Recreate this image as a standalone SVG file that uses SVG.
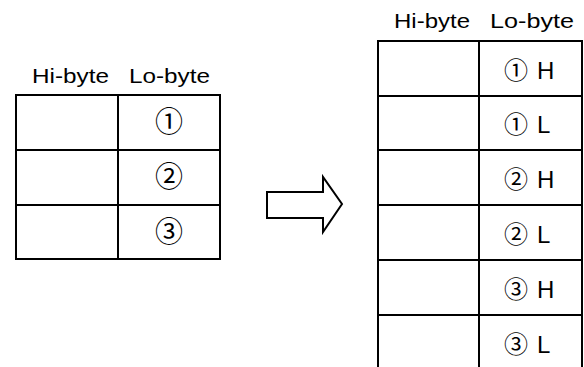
<svg xmlns="http://www.w3.org/2000/svg" width="584" height="367" viewBox="0 0 584 367">
<style>
.cell{fill:#fff;stroke:#000;stroke-width:2}
.hdr{font-family:"Liberation Sans",Arial,sans-serif;font-size:20px;fill:#000}
.num{font-family:"Noto Sans CJK JP","DejaVu Sans",sans-serif;font-size:28px;fill:#000;text-anchor:middle}
.num2{font-family:"Noto Sans CJK JP","DejaVu Sans",sans-serif;font-size:24px;fill:#000;text-anchor:middle}
.let{font-family:"Liberation Sans",Arial,sans-serif;font-size:24px;fill:#000}
</style>
<rect width="584" height="367" fill="#fff"/>
<g id="left-table">
  <text class="hdr" x="32" y="82.5" textLength="77" lengthAdjust="spacingAndGlyphs">Hi-byte</text>
  <text class="hdr" x="129" y="82.5" textLength="81" lengthAdjust="spacingAndGlyphs">Lo-byte</text>
  <g id="L1"><rect class="cell" x="16" y="95" width="102" height="55"/><rect class="cell" x="118" y="95" width="102" height="55"/><text class="num" x="169" y="132">①</text></g>
  <g id="L2"><rect class="cell" x="16" y="150" width="102" height="55"/><rect class="cell" x="118" y="150" width="102" height="55"/><text class="num" x="169" y="187">②</text></g>
  <g id="L3"><rect class="cell" x="16" y="205" width="102" height="54"/><rect class="cell" x="118" y="205" width="102" height="54"/><text class="num" x="169" y="241.5">③</text></g>
</g>
<g id="connectors">
  <polygon points="267,192 323,192 323,177 342,204 323,232 323,218 267,218" fill="#fff" stroke="#000" stroke-width="2" stroke-linejoin="miter"/>
</g>
<g id="right-table">
  <text class="hdr" x="394" y="28" textLength="76" lengthAdjust="spacingAndGlyphs">Hi-byte</text>
  <text class="hdr" x="490" y="28" textLength="84" lengthAdjust="spacingAndGlyphs">Lo-byte</text>
  <g id="R1"><rect class="cell" x="378" y="41" width="101" height="55"/><rect class="cell" x="479" y="41" width="103" height="55"/><text class="num2" x="516" y="79">①</text><text class="let" x="537" y="79">H</text></g>
  <g id="R2"><rect class="cell" x="378" y="96" width="101" height="54"/><rect class="cell" x="479" y="96" width="103" height="54"/><text class="num2" x="516" y="133">①</text><text class="let" x="537" y="133">L</text></g>
  <g id="R3"><rect class="cell" x="378" y="150" width="101" height="55"/><rect class="cell" x="479" y="150" width="103" height="55"/><text class="num2" x="516" y="188">②</text><text class="let" x="537" y="188">H</text></g>
  <g id="R4"><rect class="cell" x="378" y="205" width="101" height="55"/><rect class="cell" x="479" y="205" width="103" height="55"/><text class="num2" x="516" y="243">②</text><text class="let" x="537" y="243">L</text></g>
  <g id="R5"><rect class="cell" x="378" y="260" width="101" height="55"/><rect class="cell" x="479" y="260" width="103" height="55"/><text class="num2" x="516" y="298">③</text><text class="let" x="537" y="298">H</text></g>
  <g id="R6"><rect class="cell" x="378" y="315" width="101" height="60"/><rect class="cell" x="479" y="315" width="103" height="60"/><text class="num2" x="516" y="353">③</text><text class="let" x="537" y="353">L</text></g>
</g>
</svg>
